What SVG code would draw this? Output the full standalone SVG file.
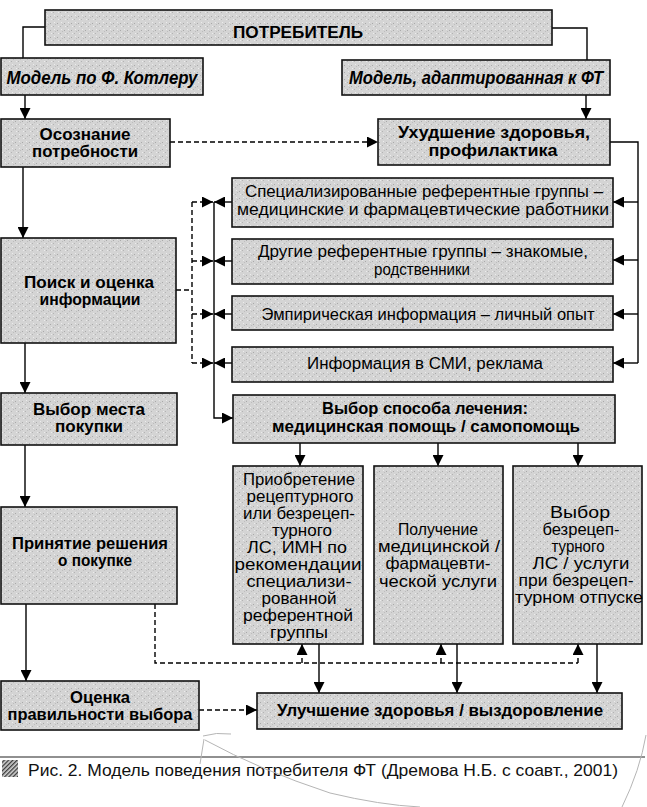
<svg xmlns="http://www.w3.org/2000/svg" width="647" height="807" viewBox="0 0 647 807">
<defs>
<pattern id="tex" width="7" height="7" patternUnits="userSpaceOnUse">
<rect width="7" height="7" fill="#d4d4d4"/>
<rect x="1" y="2" width="1" height="1" fill="#a9a9a9"/>
<rect x="4" y="5" width="1" height="1" fill="#b3b3b3"/>
<rect x="5" y="1" width="1" height="1" fill="#ececec"/>
<rect x="2" y="5" width="1" height="1" fill="#ececec"/>
<rect x="6" y="3" width="1" height="1" fill="#bdbdbd"/>
</pattern>
<pattern id="hatch" width="3" height="3" patternUnits="userSpaceOnUse" patternTransform="rotate(45)">
<rect width="3" height="3" fill="#d0d0d0"/>
<rect width="1.3" height="3" fill="#3a3a3a"/>
</pattern>
<marker id="ah" markerUnits="userSpaceOnUse" markerWidth="11" markerHeight="11" refX="10" refY="5" orient="auto" viewBox="0 0 10 10">
<path d="M0,0 L10,5 L0,10 z" fill="#000" stroke="none"/>
</marker>
</defs>
<style>
.box{fill:url(#tex);stroke:#111;stroke-width:1.6}
.t{font-family:"Liberation Sans",Arial,sans-serif;fill:#000;text-anchor:middle}
.b{font-weight:bold;font-size:16px}
.r{font-size:16px}
.s{font-size:16px}
.bi{font-weight:bold;font-style:italic;font-size:18px}
.ln{fill:none;stroke:#000;stroke-width:1.4}
.dl{fill:none;stroke:#000;stroke-width:1.4;stroke-dasharray:5 3}
.arr{marker-end:url(#ah)}
.pen{fill:none;stroke:#b5b5b5;stroke-width:1}
</style>

<g id="connectors">
<path class="ln" d="M45,27 H23 V58"/>
<path class="ln" d="M552,28 H587 V60"/>
<path class="ln arr" d="M25,95 V119"/>
<path class="ln arr" d="M586,95 V119"/>
<path class="ln arr" d="M23,167 V238"/>
<path class="ln arr" d="M25,343 V393"/>
<path class="ln arr" d="M25,445 V507"/>
<path class="ln arr" d="M26,604 V681"/>
<path class="dl arr" d="M170,142 H378"/>
<path class="ln" d="M610,142 H638 V363"/>
<path class="ln arr" d="M638,202 H613"/>
<path class="ln arr" d="M638,260 H613"/>
<path class="ln arr" d="M638,314 H613"/>
<path class="ln arr" d="M638,363 H613"/>
<path class="ln arr" d="M214,202 V418 H233"/>
<path class="ln arr" d="M232,202 H214"/>
<path class="ln arr" d="M232,261 H214"/>
<path class="ln arr" d="M232,314 H214"/>
<path class="ln arr" d="M232,363 H214"/>
<path class="dl" d="M176,290 H192"/>
<path class="dl" d="M192,202 V363"/>
<path class="dl arr" d="M192,202 H213"/>
<path class="dl arr" d="M192,261 H213"/>
<path class="dl arr" d="M192,314 H213"/>
<path class="dl arr" d="M192,363 H213"/>
<path class="ln arr" d="M300,443 V466"/>
<path class="ln arr" d="M438,443 V466"/>
<path class="ln arr" d="M578,443 V466"/>
<path class="ln arr" d="M319,644 V693"/>
<path class="ln arr" d="M457,644 V693"/>
<path class="ln arr" d="M597,644 V693"/>
<path class="dl" d="M155,604 V663 H578"/>
<path class="dl arr" d="M302,663 V644"/>
<path class="dl arr" d="M441,663 V644"/>
<path class="dl arr" d="M578,663 V644"/>
<path class="dl arr" d="M199,710 H257"/>
</g>

<g id="potrebitel">
<rect class="box" x="45" y="10" width="507" height="35"/>
<text class="t" x="298" y="38" font-weight="bold" font-size="16" textLength="130" lengthAdjust="spacingAndGlyphs">ПОТРЕБИТЕЛЬ</text>
</g>
<g id="kotler">
<rect class="box" x="1" y="58" width="202" height="37"/>
<text class="t bi" x="102" y="84" textLength="191" lengthAdjust="spacingAndGlyphs">Модель по Ф. Котлеру</text>
</g>
<g id="ft">
<rect class="box" x="342" y="60" width="268" height="35"/>
<text class="t bi" x="476" y="84" textLength="254" lengthAdjust="spacingAndGlyphs">Модель, адаптированная к ФТ</text>
</g>
<g id="osoznanie">
<rect class="box" x="1" y="119" width="169" height="48"/>
<text class="t b" x="85" y="140" textLength="91" lengthAdjust="spacingAndGlyphs">Осознание</text>
<text class="t b" x="85" y="157" textLength="106" lengthAdjust="spacingAndGlyphs">потребности</text>
</g>
<g id="uhudshenie">
<rect class="box" x="378" y="119" width="232" height="46"/>
<text class="t b" x="494" y="138" textLength="192" lengthAdjust="spacingAndGlyphs">Ухудшение здоровья,</text>
<text class="t b" x="493" y="156" textLength="129" lengthAdjust="spacingAndGlyphs">профилактика</text>
</g>
<g id="ref-spec">
<rect class="box" x="232" y="178" width="381" height="49"/>
<text class="t r" x="424" y="197" textLength="358" lengthAdjust="spacingAndGlyphs">Специализированные референтные группы –</text>
<text class="t r" x="423" y="215" textLength="372" lengthAdjust="spacingAndGlyphs">медицинские и фармацевтические работники</text>
</g>
<g id="ref-other">
<rect class="box" x="232" y="239" width="381" height="45"/>
<text class="t r" x="423" y="257" textLength="330" lengthAdjust="spacingAndGlyphs">Другие референтные группы – знакомые,</text>
<text class="t r" x="422" y="275" textLength="96" lengthAdjust="spacingAndGlyphs">родственники</text>
</g>
<g id="empir">
<rect class="box" x="232" y="296" width="381" height="34"/>
<text class="t r" x="428" y="320" textLength="333" lengthAdjust="spacingAndGlyphs">Эмпирическая информация – личный опыт</text>
</g>
<g id="smi">
<rect class="box" x="232" y="347" width="381" height="35"/>
<text class="t r" x="425" y="369" textLength="236" lengthAdjust="spacingAndGlyphs">Информация в СМИ, реклама</text>
</g>
<g id="poisk">
<rect class="box" x="1" y="238" width="175" height="105"/>
<text class="t b" x="89" y="288" textLength="130" lengthAdjust="spacingAndGlyphs">Поиск и оценка</text>
<text class="t b" x="90" y="305" textLength="101" lengthAdjust="spacingAndGlyphs">информации</text>
</g>
<g id="vybor-mesta">
<rect class="box" x="1" y="393" width="176" height="52"/>
<text class="t b" x="89" y="415" textLength="112" lengthAdjust="spacingAndGlyphs">Выбор места</text>
<text class="t b" x="89" y="432" textLength="68" lengthAdjust="spacingAndGlyphs">покупки</text>
</g>
<g id="vybor-sposoba">
<rect class="box" x="233" y="395" width="382" height="48"/>
<text class="t b" x="425" y="414" textLength="206" lengthAdjust="spacingAndGlyphs">Выбор способа лечения:</text>
<text class="t b" x="426" y="432" textLength="308" lengthAdjust="spacingAndGlyphs">медицинская помощь / самопомощь</text>
</g>
<g id="prinyatie">
<rect class="box" x="1" y="507" width="176" height="97"/>
<text class="t b" x="90" y="549" textLength="156" lengthAdjust="spacingAndGlyphs">Принятие решения</text>
<text class="t b" x="95" y="566" textLength="74" lengthAdjust="spacingAndGlyphs">о покупке</text>
</g>
<g id="box-a">
<rect class="box" x="233" y="466" width="130" height="178"/>
<text class="t s" x="299" y="485" textLength="112" lengthAdjust="spacingAndGlyphs">Приобретение</text>
<text class="t s" x="300" y="502" textLength="107" lengthAdjust="spacingAndGlyphs">рецептурного</text>
<text class="t s" x="299" y="519" textLength="112" lengthAdjust="spacingAndGlyphs">или безрецеп-</text>
<text class="t s" x="302" y="536" textLength="60" lengthAdjust="spacingAndGlyphs">турного</text>
<text class="t s" x="297" y="553" textLength="100" lengthAdjust="spacingAndGlyphs">ЛС, ИМН по</text>
<text class="t s" x="298" y="570" textLength="127" lengthAdjust="spacingAndGlyphs">рекомендации</text>
<text class="t s" x="299" y="587" textLength="105" lengthAdjust="spacingAndGlyphs">специализи-</text>
<text class="t s" x="299" y="604" textLength="75" lengthAdjust="spacingAndGlyphs">рованной</text>
<text class="t s" x="298" y="621" textLength="110" lengthAdjust="spacingAndGlyphs">референтной</text>
<text class="t s" x="299" y="638" textLength="58" lengthAdjust="spacingAndGlyphs">группы</text>
</g>
<g id="box-b">
<rect class="box" x="374" y="466" width="129" height="178"/>
<text class="t s" x="438" y="535" textLength="80" lengthAdjust="spacingAndGlyphs">Получение</text>
<text class="t s" x="439" y="552" textLength="122" lengthAdjust="spacingAndGlyphs">медицинской /</text>
<text class="t s" x="438" y="569" textLength="105" lengthAdjust="spacingAndGlyphs">фармацевти-</text>
<text class="t s" x="438" y="587" textLength="118" lengthAdjust="spacingAndGlyphs">ческой услуги</text>
</g>
<g id="box-c">
<rect class="box" x="513" y="466" width="129" height="178"/>
<text class="t s" x="580" y="518" textLength="60" lengthAdjust="spacingAndGlyphs">Выбор</text>
<text class="t s" x="581" y="535" textLength="77" lengthAdjust="spacingAndGlyphs">безрецеп-</text>
<text class="t s" x="578" y="552" textLength="53" lengthAdjust="spacingAndGlyphs">турного</text>
<text class="t s" x="581" y="569" textLength="97" lengthAdjust="spacingAndGlyphs">ЛС / услуги</text>
<text class="t s" x="576" y="586" textLength="115" lengthAdjust="spacingAndGlyphs">при безрецеп-</text>
<text class="t s" x="579" y="603" textLength="128" lengthAdjust="spacingAndGlyphs">турном отпуске</text>
</g>
<g id="ocenka">
<rect class="box" x="1" y="681" width="198" height="49"/>
<text class="t b" x="100" y="703" textLength="60" lengthAdjust="spacingAndGlyphs">Оценка</text>
<text class="t b" x="100" y="720" textLength="185" lengthAdjust="spacingAndGlyphs">правильности выбора</text>
</g>
<g id="uluchshenie">
<rect class="box" x="257" y="693" width="365" height="36"/>
<text class="t b" x="440" y="716" textLength="326" lengthAdjust="spacingAndGlyphs">Улучшение здоровья / выздоровление</text>
</g>

<g id="caption">
<path d="M0,757 H645" stroke="#222" stroke-width="1.2"/>
<rect x="2" y="760" width="16" height="17" fill="url(#hatch)"/>
<text x="28" y="776" font-family="'Liberation Sans',Arial,sans-serif" font-size="17" fill="#111" textLength="590" lengthAdjust="spacingAndGlyphs">Рис. 2. Модель поведения потребителя ФТ (Дремова Н.Б. с соавт., 2001)</text>
</g>

<g id="pencil">
<path class="pen" d="M203,736 Q216,732 231,734"/>
<path class="pen" d="M204,739 L200,764"/>
<path class="pen" d="M205,740 Q260,770 330,793 Q380,805 420,807"/>
<path class="pen" d="M646,735 Q640,770 622,807"/>
</g>
</svg>
